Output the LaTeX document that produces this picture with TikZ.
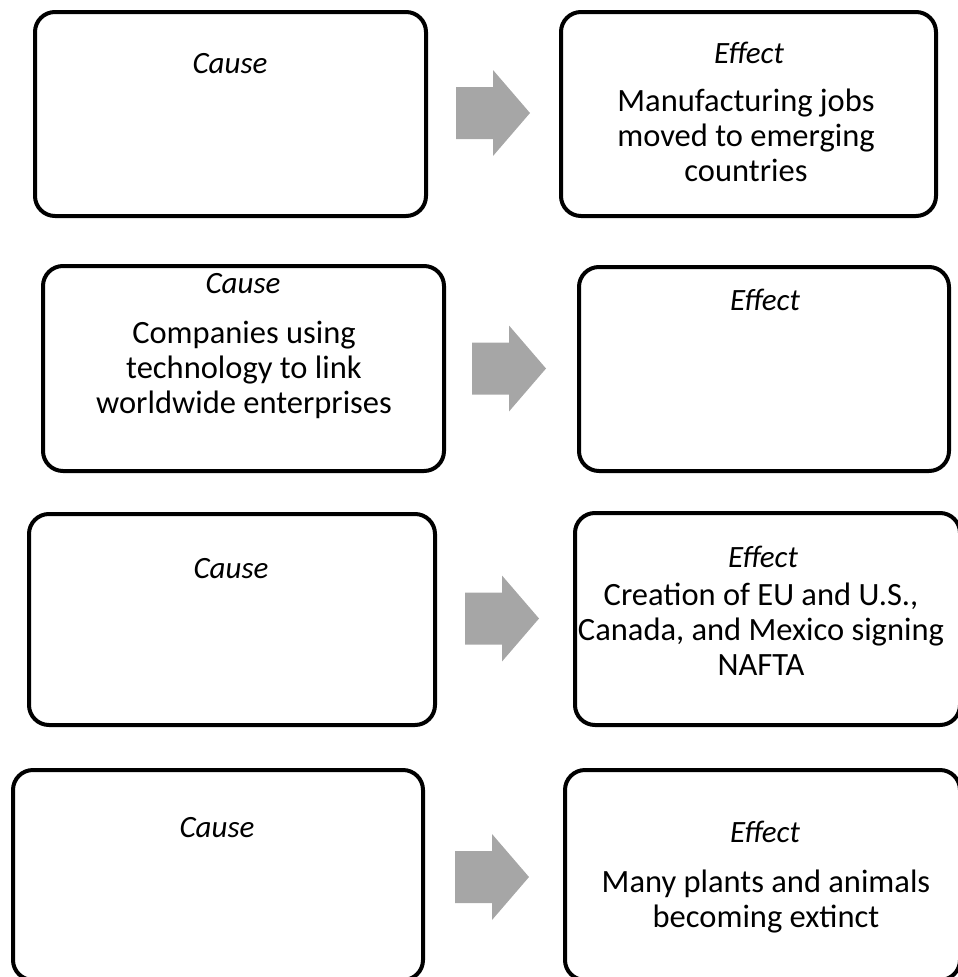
\documentclass[tikz,border=0pt]{standalone}
\usepackage{fontspec}
\setmainfont{Carlito}
\usepackage{tikz}

\definecolor{arrowgray}{RGB}{166,166,166}
\tikzset{
  cebox/.style={draw, line width=4pt, rounded corners=20pt, inner sep=0pt},
  tag/.style={font=\fontsize{31}{35}\selectfont\itshape, anchor=base},
  body/.style={font=\fontsize{32.5}{35}\selectfont, align=center, anchor=base},
  blockarrow/.pic={\fill[arrowgray] (0,-26) -- (37,-26) -- (37,-43) -- (74,0) -- (37,43) -- (37,26) -- (0,26) -- cycle;}
}

\begin{document}
\begin{tikzpicture}[x=1pt,y=-1pt]
	  \useasboundingbox (0,0) rectangle (958,977);
	  \clip (0,0) rectangle (958,977);

	  % boxes
	  \node[cebox, minimum width=391pt, minimum height=204pt] (cause1) at (230.5,114) {};
	  \node[cebox, minimum width=375pt, minimum height=204pt] (effect1) at (748.5,114) {};
	  \node[cebox, minimum width=401pt, minimum height=205pt] (cause2) at (243.5,368.5) {};
	  \node[cebox, minimum width=370pt, minimum height=204pt] (effect2) at (764,369) {};
	  \node[cebox, minimum width=406pt, minimum height=211pt] (cause3) at (232,619.5) {};
	  \node[cebox, minimum width=385pt, minimum height=212pt] (effect3) at (767.5,619) {};
	  \node[cebox, minimum width=410pt, minimum height=210pt] (cause4) at (218,875) {};
	  \node[cebox, minimum width=395pt, minimum height=210pt] (effect4) at (762.5,875) {};

	  % arrows
	  \pic at (456,113) {blockarrow};
	  \pic at (472,368.5) {blockarrow};
	  \pic at (465,618.5) {blockarrow};
	  \pic at (455,877) {blockarrow};

	  % texts (body nodes sit on the baseline of their last line)
	  \node[tag] (ctag1) at (230,73) {Cause};
	  \node[tag] (etag1) at (749,63) {Effect};
	  \node[body] (etext1) at (746,181) {Manufacturing jobs\\moved to emerging\\countries};

	  \node[tag] (ctag2) at (243,293) {Cause};
	  \node[body] (ctext2) at (244,413) {Companies using\\technology to link\\worldwide enterprises};
	  \node[tag] (etag2) at (765,310) {Effect};

	  \node[tag] (ctag3) at (231,578) {Cause};
	  \node[tag] (etag3) at (763,567) {Effect};
	  \node[body] (etext3) at (761,675) {Creation of EU and U.S.,\\Canada, and Mexico signing\\NAFTA};

	  \node[tag] (ctag4) at (217,837) {Cause};
	  \node[tag] (etag4) at (765,842) {Effect};
	  \node[body] (etext4) at (766,927) {Many plants and animals\\becoming extinct};
\end{tikzpicture}
\end{document}
